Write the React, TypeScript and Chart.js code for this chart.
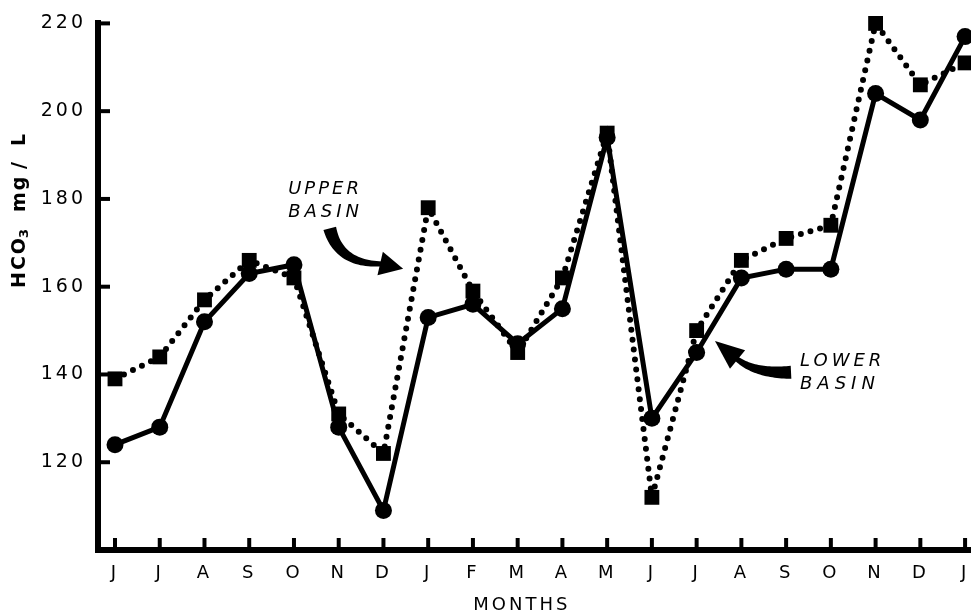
import React, { useEffect, useRef } from 'react';
import { Chart, registerables } from 'chart.js';

Chart.register(...registerables);

// ---- data ----
const months = ['J', 'J', 'A', 'S', 'O', 'N', 'D', 'J', 'F', 'M', 'A', 'M', 'J', 'J', 'A', 'S', 'O', 'N', 'D', 'J'];
const lowerBasin = [124, 128, 152, 163, 165, 128, 109, 153, 156, 147, 155, 194, 130, 145, 162, 164, 164, 204, 198, 217];
const upperBasin = [139, 144, 157, 166, 162, 131, 122, 178, 159, 145, 162, 195, 112, 150, 166, 171, 174, 220, 206, 211];
const yTicks = [120, 140, 160, 180, 200, 220];
const yTitle = ['HCO', '3', 'mg', '/', 'L'];
const xTitle = 'MONTHS';

// annotation anchors in data units [xIndex, value]
const upperLabel = { lines: ['UPPER', 'BASIN'], at: [3.87, 181.1], at2: [3.87, 175.9] };
const lowerLabel = { lines: ['LOWER', 'BASIN'], at: [15.31, 141.9], at2: [15.31, 136.7] };
const upperArrow = { tail: [4.8, 173.3], ctrl: [5.0, 165.0], end: [5.97, 165.2], tip: [6.44, 164.1] };
const lowerArrow = { tail: [15.11, 140.5], ctrl: [14.3, 140.1], end: [13.88, 143.7], tip: [13.41, 147.6] };

const FONT = '"DejaVu Sans", sans-serif';

type P = [number, number];

function drawArrow(ctx: CanvasRenderingContext2D, p0: P, c: P, p1: P, tip: P, w0: number, w1: number, hw: number) {
  const N = 30;
  const L: P[] = [];
  const R: P[] = [];
  for (let i = 0; i <= N; i++) {
    const t = i / N;
    const x = (1 - t) * (1 - t) * p0[0] + 2 * (1 - t) * t * c[0] + t * t * p1[0];
    const y = (1 - t) * (1 - t) * p0[1] + 2 * (1 - t) * t * c[1] + t * t * p1[1];
    let dx = 2 * (1 - t) * (c[0] - p0[0]) + 2 * t * (p1[0] - c[0]);
    let dy = 2 * (1 - t) * (c[1] - p0[1]) + 2 * t * (p1[1] - c[1]);
    const len = Math.hypot(dx, dy) || 1;
    dx /= len;
    dy /= len;
    const w = (w0 + (w1 - w0) * t) / 2;
    L.push([x - dy * w, y + dx * w]);
    R.push([x + dy * w, y - dx * w]);
  }
  ctx.beginPath();
  ctx.moveTo(L[0][0], L[0][1]);
  for (const p of L) ctx.lineTo(p[0], p[1]);
  for (let i = R.length - 1; i >= 0; i--) ctx.lineTo(R[i][0], R[i][1]);
  ctx.closePath();
  ctx.fill();
  let ux = tip[0] - p1[0];
  let uy = tip[1] - p1[1];
  const ul = Math.hypot(ux, uy) || 1;
  ux /= ul;
  uy /= ul;
  const bx = p1[0] - ux * 2;
  const by = p1[1] - uy * 2;
  ctx.beginPath();
  ctx.moveTo(tip[0], tip[1]);
  ctx.lineTo(bx - uy * hw, by + ux * hw);
  ctx.lineTo(bx + uy * hw, by - ux * hw);
  ctx.closePath();
  ctx.fill();
}

const decorPlugin = {
  id: 'decor',
  beforeDraw(chart: any) {
    chart.ctx.letterSpacing = '3px';
  },
  afterDraw(chart: any) {
    const { ctx, chartArea, scales } = chart;
    const xs = scales.x;
    const ys = scales.y;
    const px = (v: number[]): P => [xs.getPixelForValue(v[0]), ys.getPixelForValue(v[1])];
    ctx.save();
    ctx.letterSpacing = '0px';
    ctx.strokeStyle = '#000';
    ctx.fillStyle = '#000';
    ctx.lineCap = 'butt';
    ctx.lineWidth = 4;
    // inward tick marks
    yTicks.forEach((v) => {
      const y = ys.getPixelForValue(v);
      ctx.beginPath();
      ctx.moveTo(chartArea.left, y);
      ctx.lineTo(chartArea.left + 12, y);
      ctx.stroke();
    });
    months.forEach((_, i) => {
      const x = xs.getPixelForValue(i);
      ctx.beginPath();
      ctx.moveTo(x, chartArea.bottom);
      ctx.lineTo(x, chartArea.bottom - 12);
      ctx.stroke();
    });

    // x title
    ctx.font = `18px ${FONT}`;
    ctx.letterSpacing = '3px';
    ctx.textAlign = 'center';
    ctx.textBaseline = 'alphabetic';
    ctx.fillText(xTitle, xs.getPixelForValue(9.06) + 1.5, 610);

    // y title
    ctx.save();
    ctx.translate(20, 288);
    ctx.rotate(-Math.PI / 2);
    ctx.textAlign = 'left';
    ctx.textBaseline = 'middle';
    ctx.letterSpacing = '2px';
    ctx.font = `bold 19px ${FONT}`;
    ctx.fillText(yTitle[0], 0, 0);
    ctx.font = `bold 13px ${FONT}`;
    ctx.fillText(yTitle[1], 50, 5);
    ctx.font = `bold 19px ${FONT}`;
    ctx.fillText(yTitle[2], 76, 0);
    ctx.fillText(yTitle[3], 119, 0);
    ctx.fillText(yTitle[4], 142, 0);
    ctx.restore();

    // annotation labels
    ctx.textAlign = 'left';
    ctx.textBaseline = 'alphabetic';
    ctx.font = `italic 18px ${FONT}`;
    let p = px(upperLabel.at);
    ctx.letterSpacing = '3px';
    ctx.fillText(upperLabel.lines[0], p[0], p[1]);
    p = px(upperLabel.at2);
    ctx.letterSpacing = '4px';
    ctx.fillText(upperLabel.lines[1], p[0], p[1]);
    p = px(lowerLabel.at);
    ctx.letterSpacing = '4px';
    ctx.fillText(lowerLabel.lines[0], p[0], p[1]);
    p = px(lowerLabel.at2);
    ctx.letterSpacing = '5px';
    ctx.fillText(lowerLabel.lines[1], p[0], p[1]);

    // arrows
    drawArrow(ctx, px(upperArrow.tail), px(upperArrow.ctrl), px(upperArrow.end), px(upperArrow.tip), 13, 5, 12);
    drawArrow(ctx, px(lowerArrow.tail), px(lowerArrow.ctrl), px(lowerArrow.end), px(lowerArrow.tip), 13, 5, 12);
    ctx.restore();
  },
};

export default function App() {
  const ref = useRef<HTMLCanvasElement>(null);
  useEffect(() => {
    document.body.style.margin = '0';
    const canvas = ref.current!;
    Chart.defaults.font.family = FONT;
    const chart = new Chart(canvas, {
      type: 'line',
      data: {
        datasets: [
          {
            label: 'Lower basin',
            data: lowerBasin.map((v, i) => ({ x: i, y: v })),
            borderColor: '#000',
            backgroundColor: '#000',
            borderWidth: 5,
            pointStyle: 'circle',
            pointRadius: 8.5,
            pointBorderWidth: 0,
            pointBackgroundColor: '#000',
            tension: 0,
            clip: false as any,
          },
          {
            label: 'Upper basin',
            data: upperBasin.map((v, i) => ({ x: i, y: v })),
            borderColor: '#000',
            backgroundColor: '#000',
            borderWidth: 6,
            borderDash: [0, 10],
            borderCapStyle: 'round',
            pointStyle: 'rect',
            pointRadius: 10.5,
            pointBorderWidth: 0,
            pointBackgroundColor: '#000',
            tension: 0,
            clip: false as any,
          },
        ],
      },
      options: {
        animation: false,
        responsive: false,
        events: [],
        layout: { autoPadding: false, padding: { left: 0, top: 20, right: 1, bottom: 0 } },
        plugins: { legend: { display: false }, tooltip: { enabled: false }, title: { display: false } },
        scales: {
          x: {
            type: 'linear',
            min: -0.38,
            max: 19.11,
            afterBuildTicks: (s: any) => {
              s.ticks = months.map((_, i) => ({ value: i }));
            },
            afterFit: (s: any) => {
              s.height = 66;
              s.paddingLeft = 0;
              s.paddingRight = 0;
            },
            grid: { display: true, drawOnChartArea: false, drawTicks: false },
            border: { display: true, width: 6, color: '#000' },
            ticks: {
              autoSkip: false,
              maxRotation: 0,
              minRotation: 0,
              padding: 13,
              color: '#000',
              font: { family: FONT, size: 18 },
              callback: (v: any) => months[v] ?? '',
            },
          },
          y: {
            type: 'linear',
            min: 100,
            max: 220,
            afterBuildTicks: (s: any) => {
              s.ticks = yTicks.map((v) => ({ value: v }));
            },
            afterFit: (s: any) => {
              s.width = 98;
            },
            grid: { display: true, drawOnChartArea: false, drawTicks: false },
            border: { display: true, width: 6, color: '#000' },
            ticks: {
              padding: 12,
              color: '#000',
              font: { family: FONT, size: 19 },
              callback: (v: any) => String(v),
            },
          },
        },
      },
      plugins: [decorPlugin],
    });
    return () => chart.destroy();
  }, []);
  return (
    <div style={{ position: 'relative', width: 971, height: 616, background: '#fff' }}>
      <canvas ref={ref} width={971} height={616} style={{ display: 'block' }} />
    </div>
  );
}
